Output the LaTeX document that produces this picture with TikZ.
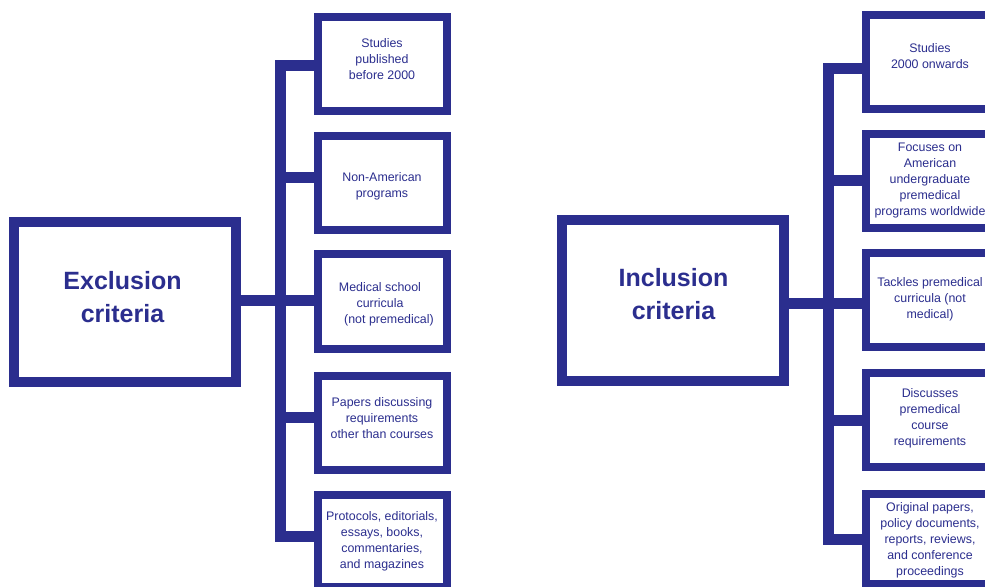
\documentclass[tikz,border=0pt]{standalone}
\usepackage{fontspec}
\setmainfont{Liberation Sans}
\definecolor{navy}{RGB}{43,46,142}
\begin{document}
\begin{tikzpicture}[x=1bp,y=-1bp,
  bigbox/.style={draw=navy,line width=10bp,minimum width=222bp,minimum height=160bp,inner sep=0pt},
  smallbox/.style={draw=navy,line width=8bp,minimum width=129bp,minimum height=94bp,inner sep=0pt},
  conn/.style={draw=navy,line width=11bp},
  smalltxt/.style={text=navy,align=center,inner sep=0pt,font=\fontsize{12.4bp}{16bp}\selectfont},
  bigtxt/.style={text=navy,align=center,inner sep=0pt,font=\fontsize{25bp}{33bp}\selectfont\bfseries}]
\useasboundingbox (0,0) rectangle (985,587);
\clip (0,0) rectangle (985,587);
\fill[white] (0,0) rectangle (985,587);
% ---------- Exclusion ----------
\node[bigbox] (ex) at (125,302) {};
\node[smallbox] (e1) at (382.5,64) {};
\node[smallbox] (e2) at (382.5,183) {};
\node[smallbox] (e3) at (382.5,301.5) {};
\node[smallbox] (e4) at (382.5,422.5) {};
\node[smallbox,minimum height=92bp] (e5) at (382.5,540.5) {};
\coordinate (lt) at (280.5,300);
\draw[conn] (e1.west |- 0,65.5) -| (lt |- 0,536.5) -- (e5.west |- 0,536.5);
\draw[conn] (lt |- 0,178) -- (e2.west |- 0,178);
\draw[conn] (ex.east |- 0,300.5) -- (e3.west |- 0,300.5);
\draw[conn] (lt |- 0,417) -- (e4.west |- 0,417);
\node[bigtxt] (ext) at (122.5,297) {Exclusion\\criteria};
\node[smalltxt] (e1t) at (382,59) {Studies\\published\\before 2000};
\node[smalltxt] (e2t) at (382,186) {Non-American\\programs};
\node[smalltxt] (e3t) at (380,304) {Medical school\\curricula\\\hspace*{18bp}(not premedical)};
\node[smalltxt] (e4t) at (382,418) {Papers discussing\\requirements\\other than courses};
\node[smalltxt] (e5t) at (382,541) {Protocols, editorials,\\essays, books,\\commentaries,\\and magazines};
% ---------- Inclusion ----------
\node[bigbox,minimum height=161bp] (in) at (673,300.5) {};
\node[smallbox] (i1) at (930.5,62.5) {};
\node[smallbox] (i2) at (930.5,181) {};
\node[smallbox] (i3) at (930.5,300) {};
\node[smallbox] (i4) at (930.5,420) {};
\node[smallbox,minimum height=90bp] (i5) at (930.5,538.5) {};
\coordinate (rt) at (828.5,300);
\draw[conn] (i1.west |- 0,69) -| (rt |- 0,539) -- (i5.west |- 0,539);
\draw[conn] (rt |- 0,181) -- (i2.west |- 0,181);
\draw[conn] (in.east |- 0,303) -- (i3.west |- 0,303);
\draw[conn] (rt |- 0,420) -- (i4.west |- 0,420);
\node[bigtxt] (int) at (673.5,294.5) {Inclusion\\criteria};
\node[smalltxt] (i1t) at (930,56) {Studies\\2000 onwards};
\node[smalltxt] (i2t) at (930,181) {Focuses on\\American\\undergraduate\\premedical\\programs worldwide};
\node[smalltxt] (i3t) at (930,299) {Tackles premedical\\curricula (not\\medical)};
\node[smalltxt] (i4t) at (930,418) {Discusses\\premedical\\course\\requirements};
\node[smalltxt] (i5t) at (930,540) {Original papers,\\policy documents,\\reports, reviews,\\and conference\\proceedings};
\end{tikzpicture}
\end{document}
